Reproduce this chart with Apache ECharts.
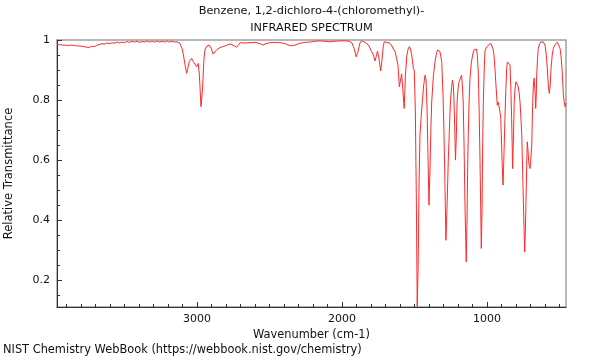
<!DOCTYPE html>
<html>
<head>
<meta charset="utf-8">
<script src="https://cdn.jsdelivr.net/npm/echarts@6/dist/echarts.min.js"></script>
<style>html,body{margin:0;padding:0;background:#fff;}#c{width:600px;height:360px;}</style>
</head>
<body>
<div id="c"></div>
<script>
const titleLine1 = "Benzene, 1,2-dichloro-4-(chloromethyl)-";
const titleLine2 = "INFRARED SPECTRUM";
const xAxisName = "Wavenumber (cm-1)";
const yAxisName = "Relative Transmittance";
const footer = "NIST Chemistry WebBook (https://webbook.nist.gov/chemistry)";

const xMajorTicks = [1000, 2000, 3000];
const xMinorTicks = [500,600,700,800,900,1100,1200,1300,1400,1500,1600,1700,1800,1900,2100,2200,2300,2400,2500,2600,2700,2800,2900,3100,3200,3300,3400,3500,3600,3700,3800,3900];
const yMajorTicks = [0.2, 0.4, 0.6, 0.8, 1];
const yMinorTicks = [0.15,0.25,0.3,0.35,0.45,0.5,0.55,0.65,0.7,0.75,0.85,0.9,0.95];

const wavenumber = [
3965,3940,3915,3890,3862,3840,3815,3793,3770,3745,3738,3725,3705,3690,3670,3655,3640,3621,3600,3586,3570,3552,3535,3517,3500,3483,3465,3448,3430,3414,3395,3379,3360,3345,3328,3310,3292,3276,3258,3241,3224,3207,3190,3172,3155,3138,3120,
3103,3093,3083,3071,3062,3053,3037,3025,3014,3002,2991,2983,2972,2962,2952,2945,2931,2915,2900,2888,2876,2864,2841,2821,2795,2772,2752,2726,2714,2703,2669,2634,2600,2566,2545,2524,2497,2462,2428,2393,2372,2347,2324,2290,2255,2221,2186,2152,2117,2083,2048,2014,1979,1952,1931,1917,1902,1890,1876,1864,1848,1830,1814,1795,1783,1772,1763,1755,1745,1733,1724,1715,1708,1690,1669,1655,1646,1634,1623,1614,1604,1596,1588,1579,1571,1562,1553,1544,1535,1527,1519,1513,1508,1501,1494,1487,1481,1475,1468,1462,1453,1446,1437,1427,1420,1413,1406,1400,1393,1386,1381,1370,1358,1348,1340,1331,1324,1312,1303,1296,1289,1283,1276,1267,1258,1252,1244,1238,1232,1227,1222,1217,1211,1206,1199,1192,1183,1175,1170,1164,1158,1152,1147,1143,1138,1134,1129,1123,1117,1108,1099,1090,1083,1074,1067,1060,1054,1048,1043,1039,1034,1030,1025,1019,1014,1003,991,974,965,956,950,945,938,929,922,915,910,905,900,894,889,885,880,876,870,864,859,853,847,841,836,830,826,823,817,812,806,800,792,784,778,772,767,760,755,749,744,740,735,731,726,722,717,712,708,703,698,691,686,680,675,671,667,664,660,657,651,646,637,629,620,611,605,600,591,584,577,570,564,558,550,542,532,523,515,507,502,496,490,484,478,473,467,461,455
];
const transmittance = [
.985,.984,.983,.982,.983,.981,.980,.979,.977,.975,.976,.979,.978,.983,.985,.988,.986,.990,.988,.991,.989,.993,.990,.993,.991,.995,.992,.996,.993,.996,.992,.995,.993,.997,.993,.996,.993,.997,.993,.996,.993,.997,.993,.996,.993,.994,.990,
.973,.95,.92,.889,.907,.928,.939,.928,.923,.911,.922,.883,.778,.833,.933,.967,.98,.983,.97,.953,.96,.967,.975,.978,.982,.987,.983,.976,.983,.991,.99,.991,.992,.988,.983,.988,.991,.992,.991,.988,.983,.981,.983,.989,.992,.993,.996,.997,.996,.994,.996,.997,.997,.996,.99,.973,.944,.96,.99,.998,.994,.989,.98,.961,.95,.93,.947,.963,.94,.897,.933,.98,.994,.992,.989,.98,.97,.963,.962,.917,.844,.867,.887,.827,.772,.883,.947,.97,.978,.97,.95,.927,.906,.897,.767,.467,.113,.233,.533,.683,.75,.794,.847,.883,.867,.767,.6,.45,.567,.717,.794,.877,.928,.957,.967,.967,.961,.928,.817,.683,.5,.333,.433,.594,.717,.794,.843,.867,.85,.794,.7,.6,.683,.794,.84,.861,.873,.883,.853,.794,.65,.461,.35,.261,.383,.55,.683,.8,.873,.923,.95,.967,.972,.97,.953,.893,.767,.6,.433,.306,.433,.633,.794,.9,.961,.977,.983,.989,.983,.967,.94,.906,.85,.783,.793,.789,.76,.739,.667,.567,.517,.583,.667,.739,.833,.906,.927,.93,.927,.917,.85,.739,.65,.572,.683,.794,.84,.861,.857,.844,.823,.794,.75,.683,.583,.461,.367,.294,.367,.461,.583,.661,.633,.594,.58,.572,.6,.65,.767,.85,.873,.878,.817,.772,.817,.883,.94,.972,.987,.994,.99,.993,.987,.983,.95,.906,.85,.822,.85,.906,.95,.972,.983,.986,.993,.997,.99,.972,.95,.917,.867,.817,.793,.778,.79
];

const seriesData = wavenumber.map((w, i) => [w, transmittance[i]]);

const textColor = '#111';
const font = 'DejaVu Sans';
const chart = echarts.init(document.getElementById('c'), null, {renderer: 'canvas'});
const X_MIN = 455, X_MAX = 3965, Y_MIN = 0.111, Y_MAX = 1.0;

chart.setOption({
  animation: false,
  backgroundColor: '#fff',
  textStyle: {fontFamily: font},
  title: [
    {text: titleLine1, left: 311.5, top: 6, padding: 0, textAlign: 'center',
     textStyle: {fontFamily: font, fontSize: 11.3, fontWeight: 'normal', color: textColor}},
    {text: titleLine2, left: 311.5, top: 23, padding: 0, textAlign: 'center',
     textStyle: {fontFamily: font, fontSize: 11.3, fontWeight: 'normal', color: textColor}},
    {text: footer, left: 3, top: 345, padding: 0,
     textStyle: {fontFamily: font, fontSize: 11.4, fontWeight: 'normal', color: textColor}}
  ],
  grid: {left: 57, top: 40, width: 509, height: 267, outerBoundsMode: 'none', containLabel: false,
         show: true, borderColor: '#a0a0a0', borderWidth: 1.5, backgroundColor: 'transparent'},
  xAxis: [
    {type: 'value', min: X_MIN, max: X_MAX, inverse: true, position: 'bottom',
     name: xAxisName, nameLocation: 'middle', nameGap: 19,
     nameTextStyle: {fontFamily: font, fontSize: 11.4, color: textColor},
     axisLine: {show: true, lineStyle: {color: '#333', width: 1}},
     axisTick: {show: true, inside: true, length: 5, customValues: xMajorTicks, lineStyle: {color: '#333'}},
     axisLabel: {show: true, customValues: xMajorTicks, margin: 7, fontFamily: font, fontSize: 11, color: textColor,
                 formatter: v => String(v)},
     splitLine: {show: false}},
    {type: 'value', min: X_MIN, max: X_MAX, inverse: true, position: 'bottom',
     axisLine: {show: false},
     axisTick: {show: true, inside: true, length: 3, customValues: xMinorTicks, lineStyle: {color: '#333'}},
     axisLabel: {show: false},
     splitLine: {show: false}}
  ],
  yAxis: [
    {type: 'value', min: Y_MIN, max: Y_MAX, position: 'left',
     name: yAxisName, nameLocation: 'middle', nameGap: 42, nameRotate: 90,
     nameTextStyle: {fontFamily: font, fontSize: 11.5, color: textColor},
     axisLine: {show: true, lineStyle: {color: '#333', width: 1}},
     axisTick: {show: true, inside: true, length: 5, customValues: yMajorTicks, lineStyle: {color: '#333'}},
     axisLabel: {show: true, customValues: yMajorTicks, margin: 7, fontFamily: font, fontSize: 11, color: textColor,
                 formatter: v => String(v)},
     splitLine: {show: false}},
    {type: 'value', min: Y_MIN, max: Y_MAX, position: 'left',
     axisLine: {show: false},
     axisTick: {show: true, inside: true, length: 3, customValues: yMinorTicks, lineStyle: {color: '#333'}},
     axisLabel: {show: false},
     splitLine: {show: false}}
  ],
  series: [{
    type: 'line', xAxisIndex: 0, yAxisIndex: 0,
    data: seriesData, showSymbol: false, symbol: 'none',
    lineStyle: {color: '#ff2a2a', width: 1},
    clip: true
  }]
});
</script>
</body>
</html>
